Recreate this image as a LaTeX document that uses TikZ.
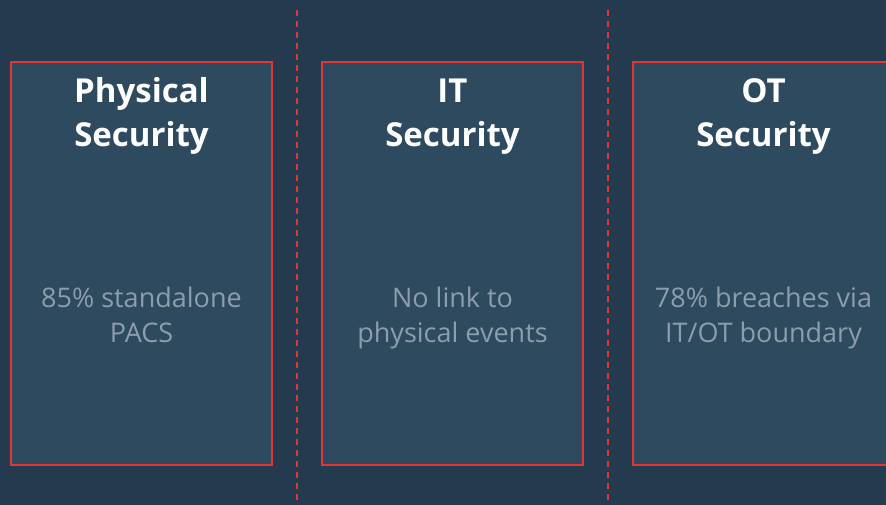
\documentclass[tikz,border=0pt]{standalone}
\usepackage{fontspec}
\setmainfont{Open Sans}
\usepackage{tikz}
\definecolor{bgblue}{HTML}{243A4F}
\definecolor{boxblue}{HTML}{2E4A5F}
\definecolor{edgered}{HTML}{E33536}
\definecolor{bodygray}{HTML}{8C9DAB}
\tikzstyle{pillar} = [rectangle, minimum width=261pt, minimum height=403pt, draw=edgered, fill=boxblue, line width=1.6pt]
\tikzstyle{title} = [text=white, align=center, anchor=base, font=\fontsize{33}{44}\selectfont\bfseries]
\tikzstyle{body} = [text=bodygray, align=center, anchor=base, font=\fontsize{27}{35}\selectfont]
\tikzstyle{divider} = [edgered, line width=2pt, dash pattern=on 6pt off 5pt]

\begin{document}
\begin{tikzpicture}[x=1pt, y=-1pt]
	\fill [bgblue] (0,0) rectangle (886,505);
	\useasboundingbox (0,0) rectangle (886,505);

	\coordinate (div1_top) at (297,10);
	\coordinate (div1_bot) at (297,505);
	\coordinate (div2_top) at (608,10);
	\coordinate (div2_bot) at (608,505);
	\draw [divider] (div1_top)--(div1_bot);
	\draw [divider] (div2_top)--(div2_bot);

	\node (physical) at (141.5,263.5) [pillar] {};
	\node (physical_title) at (141.5,147) [title] {Physical\\Security};
	\node (physical_body) at (141.5,342) [body] {85\% standalone\\PACS};

	\node (it) at (452.5,263.5) [pillar] {};
	\node (it_title) at (452.5,147) [title] {IT\\Security};
	\node (it_body) at (452.5,342) [body] {No link to\\physical events};

	\node (ot) at (763.5,263.5) [pillar] {};
	\node (ot_title) at (763.5,147) [title] {OT\\Security};
	\node (ot_body) at (763.5,342) [body] {78\% breaches via\\IT/OT boundary};

\end{tikzpicture}
\end{document}
